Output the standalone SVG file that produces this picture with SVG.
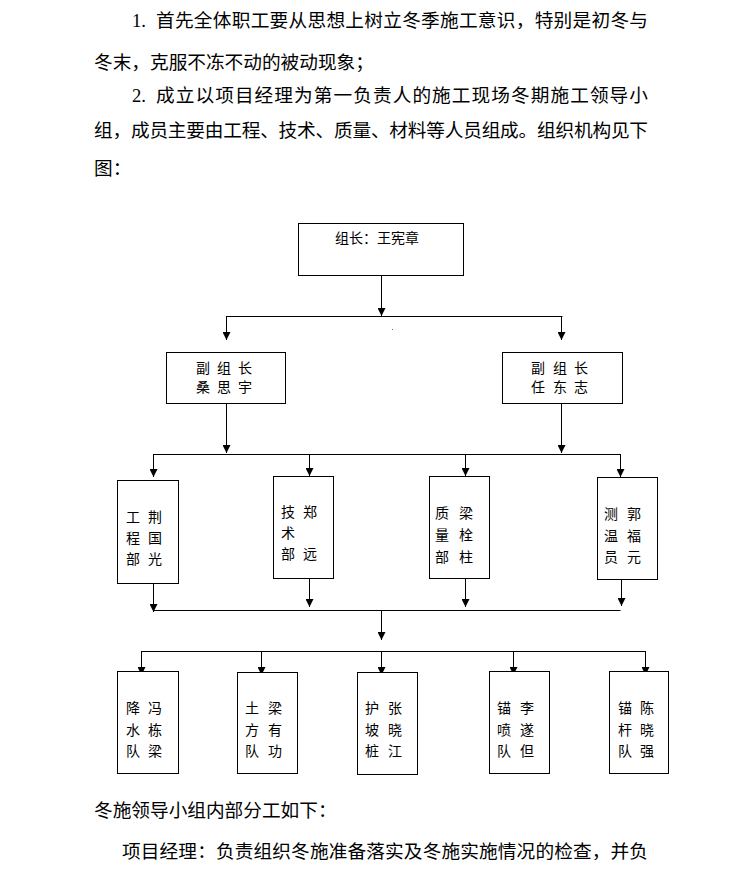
<svg xmlns="http://www.w3.org/2000/svg" width="741" height="876" viewBox="0 0 741 876">
<style>
.p{font-family:"Liberation Serif","Noto Sans CJK SC",serif;font-size:18.67px;fill:#000}
.n{font-family:"Noto Sans CJK SC","Liberation Sans",sans-serif;font-size:14px;fill:#000}
.box{fill:#fff;stroke:#000;stroke-width:1}
.ln{fill:none;stroke:#000;stroke-width:1}
</style>
<defs>
<marker id="ah" markerUnits="userSpaceOnUse" markerWidth="8" markerHeight="8" refX="8" refY="4" orient="auto">
<path d="M0,0 L8,4 L0,8 z" fill="#000"/>
</marker>
</defs>
<rect width="741" height="876" fill="#fff"/>

<g id="paragraphs">
<text class="p" x="132" y="27">1.</text>
<text class="p" x="156" y="27" textLength="492" lengthAdjust="spacing">首先全体职工要从思想上树立冬季施工意识，特别是初冬与</text>
<text class="p" x="94" y="68.5">冬末，克服不冻不动的被动现象；</text>
<text class="p" x="132" y="101.5">2.</text>
<text class="p" x="156" y="101.5" textLength="492" lengthAdjust="spacing">成立以项目经理为第一负责人的施工现场冬期施工领导小</text>
<text class="p" x="94" y="136.5" textLength="554" lengthAdjust="spacing">组，成员主要由工程、技术、质量、材料等人员组成。组织机构见下</text>
<text class="p" x="94" y="174.5">图：</text>
<text class="p" x="94" y="816.5">冬施领导小组内部分工如下：</text>
<text class="p" x="122" y="857.5" textLength="526" lengthAdjust="spacing">项目经理：负责组织冬施准备落实及冬施实施情况的检查，并负</text>
</g>

<g id="connectors">
<path class="ln" d="M381.5,275 V316" marker-end="url(#ah)"/>
<path class="ln" d="M226,316.5 H562.5"/>
<path class="ln" d="M226.5,316 V340" marker-end="url(#ah)"/>
<path class="ln" d="M561.5,316 V340" marker-end="url(#ah)"/>
<path class="ln" d="M226.5,403 V453" marker-end="url(#ah)"/>
<path class="ln" d="M561.5,403 V453" marker-end="url(#ah)"/>
<path class="ln" d="M153,454.5 H620.5"/>
<path class="ln" d="M153.5,454 V477" marker-end="url(#ah)"/>
<path class="ln" d="M309.5,454 V476" marker-end="url(#ah)"/>
<path class="ln" d="M465.5,454 V476" marker-end="url(#ah)"/>
<path class="ln" d="M620.5,454 V477" marker-end="url(#ah)"/>
<path class="ln" d="M153.5,583 V612" marker-end="url(#ah)"/>
<path class="ln" d="M309.5,578 V607" marker-end="url(#ah)"/>
<path class="ln" d="M465.5,578 V607" marker-end="url(#ah)"/>
<path class="ln" d="M621.5,579 V606" marker-end="url(#ah)"/>
<path class="ln" d="M153,610.5 H620.5"/>
<path class="ln" d="M381.5,610 V640" marker-end="url(#ah)"/>
<path class="ln" d="M141,651.5 H645.5"/>
<path class="ln" d="M141.5,651 V675" marker-end="url(#ah)"/>
<path class="ln" d="M261.5,651 V675" marker-end="url(#ah)"/>
<path class="ln" d="M381.5,651 V675" marker-end="url(#ah)"/>
<path class="ln" d="M513.5,651 V675" marker-end="url(#ah)"/>
<path class="ln" d="M645.5,651 V675" marker-end="url(#ah)"/>
<rect x="392" y="329" width="1" height="1" fill="#666"/>
</g>

<g id="leader">
<rect class="box" x="298.5" y="223.5" width="165" height="52"/>
<text class="n" x="335" y="243">组长：王宪章</text>
</g>

<g id="deputy-left">
<rect class="box" x="166.5" y="352.5" width="119" height="51"/>
<text class="n" x="196 217 238" y="373">副组长</text>
<text class="n" x="196 217 238" y="392">桑思宇</text>
</g>
<g id="deputy-right">
<rect class="box" x="502.5" y="352.5" width="120" height="51"/>
<text class="n" x="531 553 574" y="373">副组长</text>
<text class="n" x="531 553 574" y="392">任东志</text>
</g>

<g id="dept-engineering">
<rect class="box" x="117.5" y="480.5" width="61" height="103"/>
<text class="n" x="126 148" y="522">工荆</text>
<text class="n" x="126 148" y="543">程国</text>
<text class="n" x="126 148" y="564">部光</text>
</g>
<g id="dept-technical">
<rect class="box" x="273.5" y="476.5" width="60" height="102"/>
<text class="n" x="281 303" y="517">技郑</text>
<text class="n" x="281" y="538">术</text>
<text class="n" x="281 303" y="559">部远</text>
</g>
<g id="dept-quality">
<rect class="box" x="429.5" y="476.5" width="60" height="102"/>
<text class="n" x="435 459" y="518">质梁</text>
<text class="n" x="435 459" y="540">量栓</text>
<text class="n" x="435 459" y="562">部柱</text>
</g>
<g id="dept-survey">
<rect class="box" x="597.5" y="477.5" width="60" height="102"/>
<text class="n" x="604 627" y="519">测郭</text>
<text class="n" x="604 627" y="541">温福</text>
<text class="n" x="604 627" y="562">员元</text>
</g>

<g id="team-dewatering">
<rect class="box" x="117.5" y="671.5" width="61" height="102"/>
<text class="n" x="126 148" y="713">降冯</text>
<text class="n" x="126 148" y="735">水栋</text>
<text class="n" x="126 148" y="756">队梁</text>
</g>
<g id="team-earthwork">
<rect class="box" x="237.5" y="672.5" width="60" height="101"/>
<text class="n" x="245 268" y="713">土梁</text>
<text class="n" x="245 268" y="735">方有</text>
<text class="n" x="245 268" y="756">队功</text>
</g>
<g id="team-slope-pile">
<rect class="box" x="357.5" y="672.5" width="60" height="102"/>
<text class="n" x="365 388" y="713">护张</text>
<text class="n" x="365 388" y="735">坡晓</text>
<text class="n" x="365 388" y="756">桩江</text>
</g>
<g id="team-shotcrete">
<rect class="box" x="489.5" y="671.5" width="60" height="102"/>
<text class="n" x="497 520" y="713">锚李</text>
<text class="n" x="497 520" y="735">喷遂</text>
<text class="n" x="497 520" y="756">队但</text>
</g>
<g id="team-anchor">
<rect class="box" x="609.5" y="671.5" width="59" height="102"/>
<text class="n" x="618 640" y="713">锚陈</text>
<text class="n" x="618 640" y="735">杆晓</text>
<text class="n" x="618 640" y="756">队强</text>
</g>
</svg>
